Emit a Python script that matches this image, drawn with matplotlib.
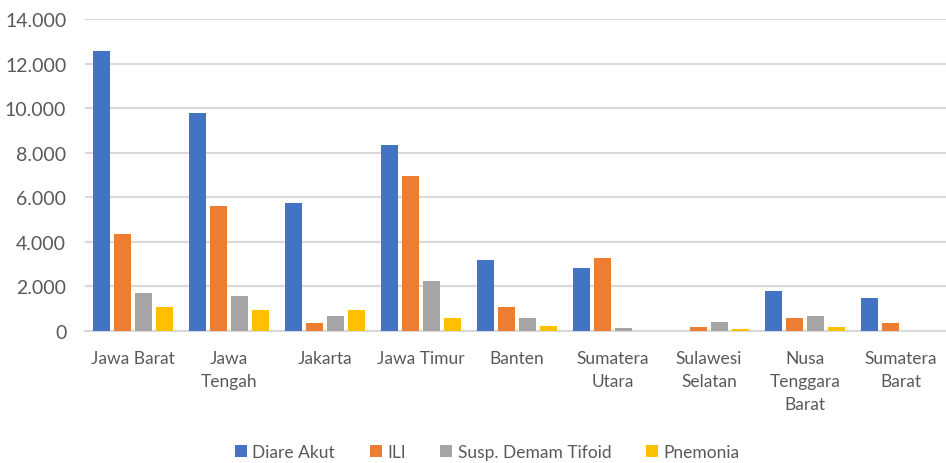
import matplotlib
matplotlib.use("Agg")
import matplotlib.pyplot as plt
import numpy as np

plt.rcParams['font.family'] = ['Lato', 'DejaVu Sans']

provinsi = ['Jawa Barat', 'Jawa\nTengah', 'Jakarta', 'Jawa Timur', 'Banten',
            'Sumatera\nUtara', 'Sulawesi\nSelatan', 'Nusa\nTenggara\nBarat', 'Sumatera\nBarat']
diare_akut = [12580, 9770, 5740, 8340, 3180, 2830, 0, 1780, 1450]
ili = [4340, 5590, 330, 6960, 1050, 3280, 170, 570, 330]
tifoid = [1690, 1550, 660, 2250, 570, 120, 380, 660, 0]
pnemonia = [1050, 940, 940, 570, 220, 0, 90, 170, 0]

series = [('Diare Akut', diare_akut, '#4472C4'),
          ('ILI', ili, '#ED7D31'),
          ('Susp. Demam Tifoid', tifoid, '#A5A5A5'),
          ('Pnemonia', pnemonia, '#FFC000')]

fig = plt.figure(figsize=(9.46, 4.64), dpi=100)
ax = fig.add_axes([85/946, 1 - 331.7/464, 864/946, (331.7 - 20)/464])

x = np.arange(len(provinsi))
step = 0.22
width = 0.18
for i, (name, vals, col) in enumerate(series):
    ax.bar(x + (i - 1.5)*step, vals, width, color=col, label=name, zorder=3)

ax.set_xlim(-0.5, len(provinsi) - 0.5)
ax.set_ylim(0, 14000)
ax.set_yticks(range(0, 14001, 2000))
ax.set_yticklabels(['0' if v == 0 else f'{v:,}'.replace(',', '.') for v in range(0, 14001, 2000)])
ax.set_xticks(x)
ax.set_xticklabels(provinsi, linespacing=1.55, va='top')

ax.grid(axis='y', color='#D9D9D9', linewidth=1.5, zorder=0)
for s in ['top', 'right', 'left']:
    ax.spines[s].set_visible(False)
ax.spines['bottom'].set_color('#D9D9D9')
ax.spines['bottom'].set_linewidth(1.5)
ax.tick_params(axis='both', length=0, colors='#595959')
ax.tick_params(axis='y', labelsize=14, pad=13.5)
ax.tick_params(axis='x', labelsize=12.5, pad=14)

fig.legend(loc='lower center', bbox_to_anchor=(0.515, -0.027), ncol=4, frameon=False,
           fontsize=12.5, handlelength=0.7, handleheight=0.7, handletextpad=0.3,
           columnspacing=2.0, labelcolor='#595959')

fig.savefig('out.png', dpi=100)
